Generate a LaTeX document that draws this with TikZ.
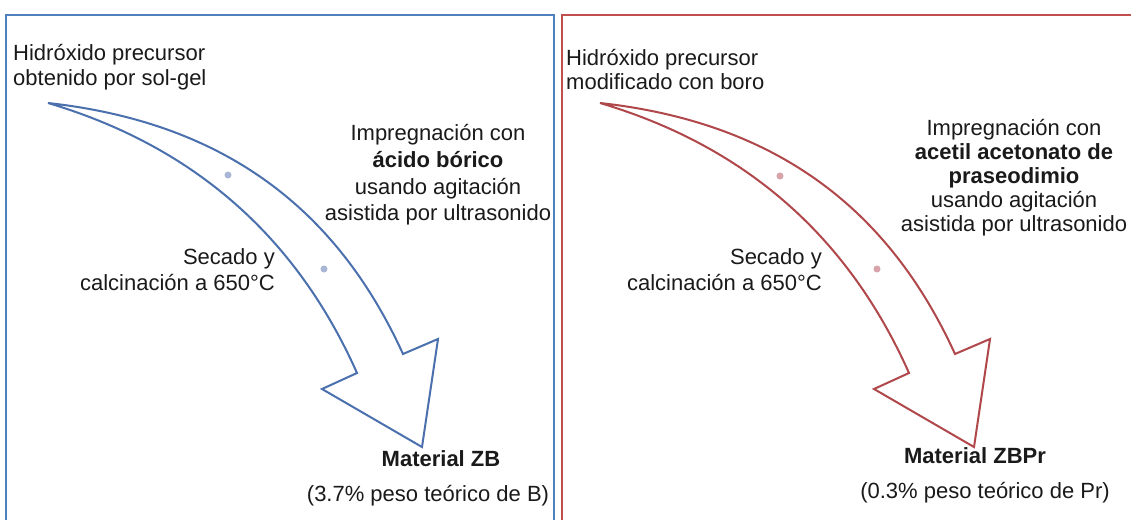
\documentclass[tikz,border=0pt]{standalone}
\usepackage{fontspec}
\setmainfont{Liberation Sans}
\definecolor{frameblue}{HTML}{4F81BD}
\definecolor{framered}{HTML}{C0504D}
\definecolor{arrowblue}{HTML}{4A70AE}
\definecolor{arrowred}{HTML}{B0474B}
\definecolor{dotblue}{HTML}{AAB6D6}
\definecolor{dotred}{HTML}{D9A3AC}
\definecolor{txt}{HTML}{1A1A1A}
\tikzset{
  frame/.style={line width=2pt},
  arrowline/.style={line width=2pt, line join=miter, fill=white},
  lbl/.style={inner sep=0pt, text=txt, font=\fontsize{22}{26}\selectfont},
  blbl/.style={lbl, font=\fontsize{22}{26}\selectfont\bfseries},
  dotmark/.style={circle, inner sep=0pt, minimum size=7pt},
  curvedarrow/.pic={
    \path[pic actions] (48,103) .. controls (220,122) and (335,205) .. (403,354)
      -- (438,339) -- (422,447) -- (322,389) -- (357,373)
      .. controls (296,236) and (193,146) .. (48,103) -- cycle;
  }
}
\begin{document}
\begin{tikzpicture}[x=1pt,y=-1pt]
\useasboundingbox (0,0) rectangle (1131,519);
\clip (0,0) rectangle (1131,519);
\fill[white] (0,0) rectangle (1131,519);
% frames
\draw[frame, frameblue] (6,15) -- (554,15) -- (554,540) -- (6,540) -- cycle;
\draw[frame, framered] (562,15) -- (1145,15) -- (1145,540) -- (562,540) -- cycle;
% arrows
\pic[arrowline, draw=arrowblue] at (0,0) {curvedarrow};
\pic[arrowline, draw=arrowred] at (552,0) {curvedarrow};
% dots
\node[dotmark, fill=dotblue] (db1) at (228,175) {};
\node[dotmark, fill=dotblue] (db2) at (324,269) {};
\node[dotmark, fill=dotred] (dr1) at (780,176) {};
\node[dotmark, fill=dotred] (dr2) at (877,269) {};
% left panel texts
\node[lbl, anchor=base west] (l1) at (13,60) {Hidróxido precursor};
\node[lbl, anchor=base west] (l2) at (13,85) {obtenido por sol-gel};
\node[lbl, anchor=base] (li1) at (438,140) {Impregnación con};
\node[blbl, anchor=base] (li2) at (438,167) {ácido bórico};
\node[lbl, anchor=base] (li3) at (438,194) {usando agitación};
\node[lbl, anchor=base] (li4) at (438,220) {asistida por ultrasonido};
\node[lbl, anchor=base east] (ls1) at (275,264) {Secado y};
\node[lbl, anchor=base east] (ls2) at (275,290) {calcinación a 650°C};
\node[blbl, anchor=base] (lm1) at (441,466) {Material ZB};
\node[lbl, anchor=base] (lm2) at (428,501) {(3.7\% peso teórico de B)};
% right panel texts
\node[lbl, anchor=base west] (r1) at (566,65) {Hidróxido precursor};
\node[lbl, anchor=base west] (r2) at (566,89) {modificado con boro};
\node[lbl, anchor=base] (ri1) at (1014,135) {Impregnación con};
\node[blbl, anchor=base] (ri2) at (1014,159) {acetil acetonato de};
\node[blbl, anchor=base] (ri3) at (1014,183) {praseodimio};
\node[lbl, anchor=base] (ri4) at (1014,207) {usando agitación};
\node[lbl, anchor=base] (ri5) at (1014,231) {asistida por ultrasonido};
\node[lbl, anchor=base east] (rs1) at (822,264) {Secado y};
\node[lbl, anchor=base east] (rs2) at (822,290) {calcinación a 650°C};
\node[blbl, anchor=base] (rm1) at (975,463) {Material ZBPr};
\node[lbl, anchor=base] (rm2) at (985,498) {(0.3\% peso teórico de Pr)};
\end{tikzpicture}
\end{document}
